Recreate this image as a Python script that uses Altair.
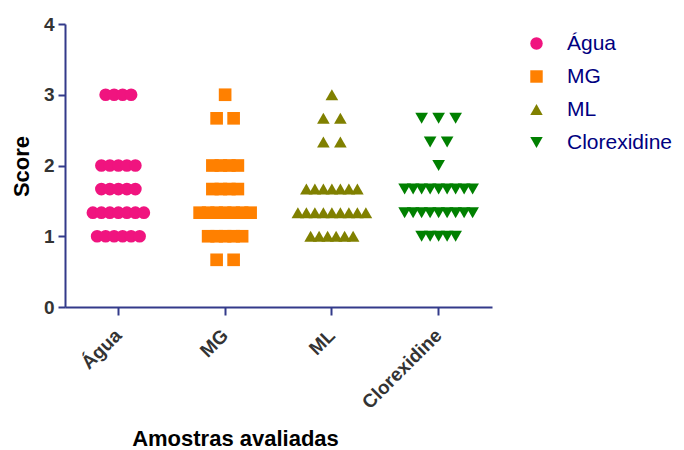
import altair as alt
import pandas as pd

groups = ["Água", "MG", "ML", "Clorexidine"]
colors = ["#F0147F", "#FF8000", "#808000", "#008000"]
shapes = ["circle", "square", "triangle-up", "triangle-down"]

agua = [3, 3, 3, 3,
        2, 2, 2, 2, 2,
        1.667, 1.667, 1.667, 1.667, 1.667,
        1.333, 1.333, 1.333, 1.333, 1.333, 1.333, 1.333,
        1, 1, 1, 1, 1, 1]
mg = [3,
      2.667, 2.667,
      2, 2, 2, 2,
      1.667, 1.667, 1.667, 1.667,
      1.333, 1.333, 1.333, 1.333, 1.333, 1.333, 1.333,
      1, 1, 1, 1, 1,
      0.667, 0.667]
ml = [3,
      2.667, 2.667,
      2.333, 2.333,
      1.667, 1.667, 1.667, 1.667, 1.667, 1.667, 1.667,
      1.333, 1.333, 1.333, 1.333, 1.333, 1.333, 1.333, 1.333, 1.333,
      1, 1, 1, 1, 1, 1]
clorex = [2.667, 2.667, 2.667,
          2.333, 2.333,
          2,
          1.667, 1.667, 1.667, 1.667, 1.667, 1.667, 1.667, 1.667, 1.667,
          1.333, 1.333, 1.333, 1.333, 1.333, 1.333, 1.333, 1.333, 1.333,
          1, 1, 1, 1, 1]

rows = []
for g, vals in zip(groups, [agua, mg, ml, clorex]):
    for v in vals:
        rows.append({"grupo": g, "score": v})
df = pd.DataFrame(rows)

axis_color = "#333a8a"

chart = alt.Chart(df).transform_window(
    rank="row_number()", groupby=["grupo", "score"]
).transform_joinaggregate(
    n="count()", groupby=["grupo", "score"]
).transform_calculate(
    step="datum.n <= 3 ? 17 : 8.5",
).transform_calculate(
    off="(datum.rank - 1 - (datum.n - 1) / 2) * datum.step"
).mark_point(filled=True, size=160, opacity=1).encode(
    x=alt.X("grupo:N",
            scale=alt.Scale(domain=groups, paddingInner=0, paddingOuter=0),
            axis=alt.Axis(title="Amostras avaliadas", labelAngle=-45,
                          labelAlign="right", labelBaseline="middle",
                          tickSize=8, labelPadding=17, labelFontSize=19,
                          titleX=170, titleY=138, titleAlign="center",
                          titleBaseline="alphabetic")),
    xOffset=alt.XOffset("off:Q",
                        scale=alt.Scale(domain=[-53.375, 53.375], range=[0, 106.75])),
    y=alt.Y("score:Q",
            scale=alt.Scale(domain=[0, 4], nice=False),
            axis=alt.Axis(title="Score", values=[0, 1, 2, 3, 4], tickSize=7,
                          labelPadding=4, labelFontSize=19,
                          titleX=-44, titleY=142,
                          titleAngle=-90, titleAlign="center",
                          titleBaseline="middle")),
    color=alt.Color("grupo:N", scale=alt.Scale(domain=groups, range=colors),
                    legend=alt.Legend(title=None, orient="none", legendX=461,
                                      legendY=9, labelFontSize=21,
                                      labelColor="#000080",
                                      labelFont="Liberation Sans",
                                      symbolSize=155, labelOffset=20,
                                      rowPadding=11, symbolOpacity=1)),
    shape=alt.Shape("grupo:N", scale=alt.Scale(domain=groups, range=shapes)),
).properties(
    width=427, height=283,
    autosize=alt.AutoSizeParams(type="none"),
    padding={"left": 57, "top": 16, "right": 184, "bottom": 142},
    background="white",
).configure_view(stroke=None).configure_axis(
    grid=False,
    domainColor=axis_color, domainWidth=2,
    tickColor=axis_color, tickWidth=2,
    labelFont="Liberation Sans", labelFontWeight="bold", labelFontSize=18,
    labelColor="#333333",
    titleFont="Liberation Sans", titleFontWeight="bold", titleFontSize=22,
    titleColor="#000000",
)

chart.save("out.html", embed_options={"renderer": "svg", "actions": False})
